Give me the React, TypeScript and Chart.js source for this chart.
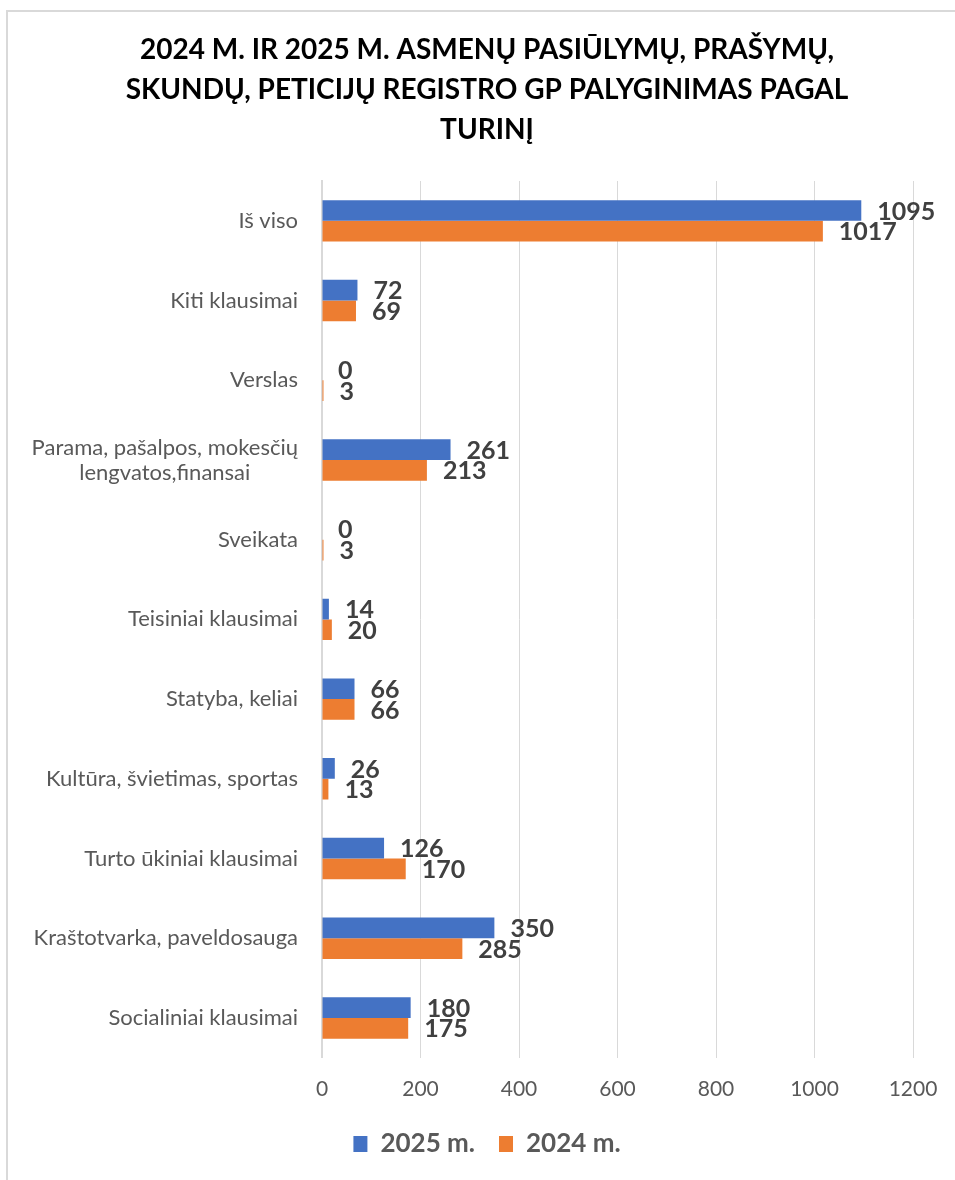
import React, { useEffect, useRef } from "react";
import { Chart, registerables } from "chart.js";

Chart.register(...registerables);

const titleLines = [
  "2024 M. IR 2025 M. ASMENŲ PASIŪLYMŲ, PRAŠYMŲ,",
  "SKUNDŲ, PETICIJŲ REGISTRO GP PALYGINIMAS PAGAL",
  "TURINĮ",
];

const categories: (string | string[])[] = [
  "Iš viso",
  "Kiti klausimai",
  "Verslas",
  ["Parama, pašalpos, mokesčių", "lengvatos,finansai"],
  "Sveikata",
  "Teisiniai klausimai",
  "Statyba, keliai",
  "Kultūra, švietimas, sportas",
  "Turto ūkiniai klausimai",
  "Kraštotvarka, paveldosauga",
  "Socialiniai klausimai",
];

const values2025 = [1095, 72, 0, 261, 0, 14, 66, 26, 126, 350, 180];
const values2024 = [1017, 69, 3, 213, 3, 20, 66, 13, 170, 285, 175];
const seriesNames = ["2025 m.", "2024 m."];
const xTicks = [0, 200, 400, 600, 800, 1000, 1200];

const FONT = "Lato";

const borderPlugin = {
  id: "frameBorder",
  beforeDraw(chart: any) {
    const ctx = chart.ctx;
    ctx.save();
    ctx.strokeStyle = "#d9d9d9";
    ctx.lineWidth = 2;
    ctx.beginPath();
    ctx.moveTo(7, 1180);
    ctx.lineTo(7, 11);
    ctx.lineTo(955, 11);
    ctx.stroke();
    ctx.restore();
  },
};

const yLabelPlugin = {
  id: "yLabels",
  afterDraw(chart: any) {
    const ys = chart.scales.y;
    const ctx = chart.ctx;
    ctx.save();
    ctx.font = `22px ${FONT}`;
    ctx.fillStyle = "#595959";
    ctx.textBaseline = "middle";
    ctx.textAlign = "center";
    const right = chart.chartArea.left - 24;
    categories.forEach((c, i) => {
      const y = ys.getPixelForValue(i);
      const lines = Array.isArray(c) ? c : [c];
      const maxW = Math.max(...lines.map((l) => ctx.measureText(l).width));
      const cx = right - maxW / 2;
      lines.forEach((l, j) => {
        ctx.fillText(l, cx, y + (j - (lines.length - 1) / 2) * 25);
      });
    });
    ctx.restore();
  },
};

const dataLabelPlugin = {
  id: "barValues",
  afterDatasetsDraw(chart: any) {
    const ctx = chart.ctx;
    ctx.save();
    ctx.font = `bold 25px ${FONT}`;
    ctx.fillStyle = "#404040";
    ctx.textAlign = "left";
    ctx.textBaseline = "middle";
    chart.data.datasets.forEach((ds: any, di: number) => {
      const meta = chart.getDatasetMeta(di);
      meta.data.forEach((el: any, i: number) => {
        ctx.fillText(String(ds.data[i]), el.x + 16, el.y + 1);
      });
    });
    ctx.restore();
  },
};

export default function App() {
  const ref = useRef<HTMLCanvasElement | null>(null);

  useEffect(() => {
    let chart: Chart | null = null;
    let cancelled = false;
    const build = () => {
      if (cancelled || !ref.current) return;
      chart = new Chart(ref.current, {
        type: "bar",
        data: {
          labels: categories as any,
          datasets: [
            {
              label: seriesNames[0],
              data: values2025,
              backgroundColor: "#4472C4",
              borderWidth: 0,
              categoryPercentage: 0.52,
              barPercentage: 1,
            },
            {
              label: seriesNames[1],
              data: values2024,
              backgroundColor: "#ED7D31",
              borderWidth: 0,
              categoryPercentage: 0.52,
              barPercentage: 1,
            },
          ],
        },
        options: {
          indexAxis: "y",
          animation: false,
          responsive: false,
          events: [],
          layout: { padding: { left: 61, right: 42, top: 10, bottom: 13 } },
          plugins: {
            title: {
              display: true,
              text: titleLines,
              color: "#000000",
              font: { family: FONT, weight: "bold", size: 28, lineHeight: "40px" } as any,
              padding: { top: 20, bottom: 31 },
            },
            legend: {
              position: "bottom",
              labels: {
                color: "#595959",
                font: { family: FONT, weight: "bold", size: 26 },
                boxWidth: 14,
                boxHeight: 16,
                padding: 24,
              },
            },
            tooltip: { enabled: false },
          },
          scales: {
            x: {
              type: "linear",
              min: 0,
              max: 1200,
              grid: { color: "#d9d9d9", drawTicks: false, lineWidth: 1 },
              border: { display: false },
              ticks: {
                color: "#595959",
                font: { family: FONT, size: 21 },
                padding: 19,
                callback: (v: any) => String(v),
              },
              afterBuildTicks: (s: any) => {
                s.ticks = xTicks.map((v) => ({ value: v }));
              },
              afterFit: (s: any) => {
                s.height -= 14;
                s.paddingLeft = 0;
                s.paddingRight = 0;
              },
            },
            y: {
              grid: { display: false },
              border: { display: true, color: "#d9d9d9", width: 2 },
              ticks: { display: false },
              afterFit: (s: any) => {
                s.width = 261;
                s.paddingTop = 0;
                s.paddingBottom = 0;
              },
            },
          },
        },
        plugins: [borderPlugin, yLabelPlugin, dataLabelPlugin],
      });
    };
    const fonts = (document as any).fonts;
    if (fonts && fonts.load) {
      Promise.all([
        fonts.load(`22px ${FONT}`),
        fonts.load(`bold 25px ${FONT}`),
      ]).then(build, build);
    } else {
      build();
    }
    return () => {
      cancelled = true;
      if (chart) chart.destroy();
    };
  }, []);

  return (
    <div style={{ position: "absolute", left: 0, top: 0, width: 955, height: 1180 }}>
      <canvas ref={ref} width={955} height={1180} style={{ width: 955, height: 1180, display: "block" }} />
    </div>
  );
}
